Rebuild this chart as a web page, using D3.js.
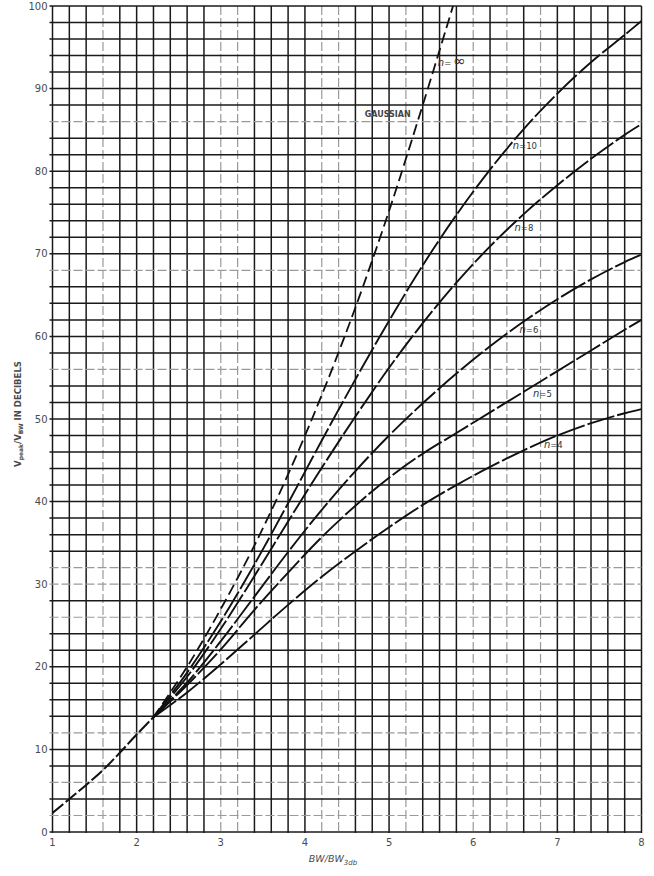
<!DOCTYPE html>
<html>
<head>
<meta charset="utf-8">
<script src="https://cdn.jsdelivr.net/npm/d3@7"></script>
<style>
  html, body { margin: 0; padding: 0; background: #fff; }
  svg { display: block; }
</style>
</head>
<body>
<svg id="chart" width="654" height="876"></svg>
<script>
// ---------- data ----------
const xTicks = [1, 2, 3, 4, 5, 6, 7, 8];
const yTicks = [0, 10, 20, 30, 40, 50, 60, 70, 80, 90, 100];

// common start segment (all curves coincide)
const xCommon = [1.0, 1.2, 1.4, 1.6, 1.8, 2.0, 2.2];
const yCommon = [2.3, 4.0, 5.7, 7.5, 9.6, 11.8, 13.9];

// Gaussian (n = infinity)
const xGaussian = [2.2, 2.6, 3.0, 3.4, 3.8, 4.2, 4.6, 5.0, 5.4, 5.76];
const yGaussian = [13.9, 20.0, 27.0, 34.7, 43.3, 52.9, 63.5, 75.2, 88.0, 100];

// finite-n curves
const xN = [2.2, 2.6, 3.0, 3.4, 3.8, 4.2, 4.6, 5.0, 5.4, 5.8, 6.2, 6.6, 7.0, 7.4, 7.8, 8.0];
const yN10 = [13.9, 19.3, 25.5, 32.4, 39.8, 47.4, 54.8, 61.9, 68.6, 74.7, 80.2, 85.1, 89.4, 93.2, 96.5, 98.2];
const yN8  = [13.9, 18.8, 24.6, 31.0, 37.6, 44.1, 50.3, 56.2, 61.6, 66.5, 70.9, 74.8, 78.3, 81.5, 84.4, 85.7];
const yN6  = [13.9, 18.1, 23.1, 28.5, 33.9, 39.0, 43.7, 48.0, 51.9, 55.5, 58.8, 61.8, 64.5, 66.9, 69.0, 69.9];
const yN5  = [13.9, 17.8, 22.1, 26.9, 31.4, 35.7, 39.5, 42.9, 45.8, 48.3, 50.8, 53.3, 55.8, 58.3, 60.8, 62.0];
const yN4  = [13.9, 16.9, 20.3, 23.9, 27.5, 30.9, 34.0, 36.9, 39.6, 42.0, 44.2, 46.2, 48.0, 49.5, 50.7, 51.2];

// curve labels
const curveLabelNames = ["=", "=10", "=8", "=6", "=5", "=4"];
const curveLabelX = [5.58, 6.47, 6.49, 6.55, 6.71, 6.84];
const curveLabelY = [92.7, 82.7, 72.7, 60.4, 52.7, 46.5];

// grid
const gridStepX = 0.2, gridStepY = 2;
const fadedGridX = [1.6, 3.0, 3.2, 4.2, 4.4, 5.2, 6.0, 6.4, 6.8];
const fadedGridY = [2, 6, 12, 26, 30, 32, 56, 68, 86];

// ---------- drawing ----------
const svg = d3.select("#chart");
const x = d3.scaleLinear().domain([1, 8]).range([52.5, 641.5]);
const y = d3.scaleLinear().domain([0, 100]).range([832, 6]);

svg.append("rect").attr("width", 654).attr("height", 876).attr("fill", "#fff");

svg.append("defs").append("clipPath").attr("id", "plot")
  .append("rect").attr("x", x(1)).attr("y", y(100)).attr("width", x(8) - x(1)).attr("height", y(0) - y(100));

const gx = d3.range(0, 36).map(k => +(1 + k * gridStepX).toFixed(1));
const gy = d3.range(0, 51).map(k => k * gridStepY);
const isFadedX = v => fadedGridX.some(f => Math.abs(f - v) < 1e-6);
const isFadedY = v => fadedGridY.some(f => Math.abs(f - v) < 1e-6);

const grid = svg.append("g");
grid.selectAll("line.vx").data(gx).join("line")
  .attr("x1", d => x(d)).attr("x2", d => x(d))
  .attr("y1", y(100)).attr("y2", y(0) + 1)
  .attr("stroke", d => isFadedX(d) ? "#9a9a9a" : "#1a1a1a")
  .attr("stroke-width", d => isFadedX(d) ? 1.2 : 1.5)
  .attr("stroke-dasharray", d => isFadedX(d) ? "9,3" : null);
grid.selectAll("line.hy").data(gy).join("line")
  .attr("x1", x(1) - 3).attr("x2", x(8))
  .attr("y1", d => y(d)).attr("y2", d => y(d))
  .attr("stroke", d => isFadedY(d) ? "#9a9a9a" : "#1a1a1a")
  .attr("stroke-width", d => isFadedY(d) ? 1.2 : 1.5)
  .attr("stroke-dasharray", d => isFadedY(d) ? "9,3" : null);

// axis tick labels
const axisG = svg.append("g").attr("font-family", "'DejaVu Sans', sans-serif").attr("fill", "#4a4a4a");
axisG.selectAll("text.yt").data(yTicks).join("text")
  .attr("x", x(1) - 5).attr("y", d => y(d) + 3.5)
  .attr("text-anchor", "end").attr("font-size", 10).text(d => d);
axisG.selectAll("text.xt").data(xTicks).join("text")
  .attr("x", d => x(d)).attr("y", 846)
  .attr("text-anchor", "middle").attr("font-size", 10).text(d => d);

// axis titles
const xt = axisG.append("text").attr("x", 333).attr("y", 862).attr("text-anchor", "middle")
  .attr("font-size", 9.5).attr("font-style", "italic");
xt.append("tspan").text("BW/BW");
xt.append("tspan").attr("dy", 3).attr("font-size", 7).text("3db");

const yt = axisG.append("text").attr("transform", "translate(21,414) rotate(-90)")
  .attr("text-anchor", "middle").attr("font-size", 8.5).attr("font-weight", "bold");
yt.append("tspan").text("V");
yt.append("tspan").attr("dy", 2).attr("font-size", 6).text("peak");
yt.append("tspan").attr("dy", -2).text("/V");
yt.append("tspan").attr("dy", 2).attr("font-size", 6).text("BW");
yt.append("tspan").attr("dy", -2).text(" IN DECIBELS");

// curves
const line = d3.line().x(d => x(d[0])).y(d => y(d[1])).curve(d3.curveCatmullRom.alpha(0.5));
const zip = (xs, ys) => xs.map((v, i) => [v, ys[i]]);
const curves = svg.append("g").attr("clip-path", "url(#plot)").attr("fill", "none").attr("stroke", "#111");

curves.append("path").attr("d", line(zip(xCommon, yCommon))).attr("stroke-width", 2).attr("stroke-dasharray", "14,3");
curves.append("path").attr("d", line(zip(xGaussian, yGaussian))).attr("stroke-width", 1.8).attr("stroke-dasharray", "11,5");
[yN10, yN8, yN6, yN5, yN4].forEach(ys => {
  curves.append("path").attr("d", line(zip(xN, ys))).attr("stroke-width", 1.9).attr("stroke-dasharray", "28,3");
});

// curve labels
const lab = svg.append("g").attr("font-family", "'DejaVu Sans', sans-serif").attr("font-size", 8.5).attr("fill", "#333");
curveLabelNames.forEach((name, i) => {
  const t = lab.append("text").attr("x", x(curveLabelX[i])).attr("y", y(curveLabelY[i]));
  t.append("tspan").attr("font-style", "italic").attr("font-size", 10).text("n");
  t.append("tspan").text(name);
  if (i === 0) t.append("tspan").attr("dx", 2).attr("font-size", 15).attr("font-family", "'DejaVu Sans', 'Noto Sans', sans-serif").text("∞");
});
lab.append("text").attr("x", x(4.71)).attr("y", y(86.6)).attr("font-size", 8).attr("font-weight", "bold").attr("fill", "#444").text("GAUSSIAN");
</script>
</body>
</html>
